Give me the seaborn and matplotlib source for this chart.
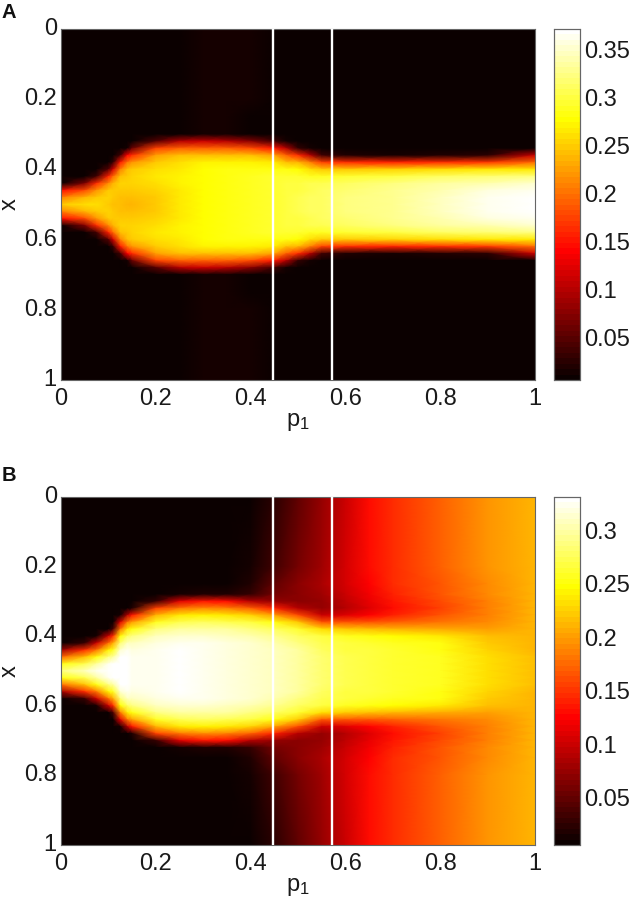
import numpy as np
import pandas as pd
import matplotlib
matplotlib.use("Agg")
import matplotlib.pyplot as plt
import seaborn as sns

sns.set_style("white")
plt.rcParams["font.family"] = ["Liberation Sans", "DejaVu Sans"]
plt.rcParams["mathtext.fontset"] = "custom"
plt.rcParams["mathtext.rm"] = "Liberation Sans"
plt.rcParams["mathtext.default"] = "regular"

# ---- data: half profiles x = 0 .. 0.5, one row per p1 (field is symmetric about x = 0.5)
p1_a = [0, .05, .075, .1, .11, .125, .14, .15, .2, .25, .3, .35, .4, .45, .475, .5, .525, .55, .6, .7, .8, .9, 1]
x_a = [0, .2, .25, .3, .32, .34, .36, .38, .4, .42, .44, .46, .48, .5]
field_a = [
    [.007, .007, .007, .007, .007, .007, .007, .007, .007, .007, .007, .145, .21, .25],
    [.007, .007, .007, .007, .007, .007, .007, .007, .007, .007, .07, .18, .235, .26],
    [.007, .007, .007, .007, .007, .007, .007, .007, .007, .04, .16, .22, .25, .26],
    [.007, .007, .007, .007, .007, .007, .007, .007, .05, .155, .215, .25, .255, .25],
    [.007, .007, .007, .007, .007, .007, .007, .03, .12, .195, .235, .25, .25, .245],
    [.007, .007, .007, .007, .007, .007, .04, .15, .21, .245, .255, .25, .245, .24],
    [.007, .007, .007, .007, .007, .015, .14, .205, .24, .25, .255, .25, .24, .235],
    [.007, .007, .007, .007, .007, .06, .165, .22, .25, .255, .255, .25, .24, .235],
    [.008, .008, .008, .008, .05, .175, .225, .25, .26, .265, .26, .255, .25, .25],
    [.009, .009, .008, .009, .10, .19, .24, .26, .265, .27, .27, .265, .265, .265],
    [.013, .013, .012, .015, .11, .19, .245, .27, .275, .278, .278, .275, .275, .275],
    [.013, .013, .012, .012, .10, .19, .245, .27, .28, .285, .285, .285, .285, .285],
    [.012, .012, .011, .01, .08, .18, .24, .27, .285, .29, .29, .29, .29, .29],
    [.007, .007, .007, .008, .04, .15, .225, .265, .285, .295, .295, .295, .295, .295],
    [.007, .007, .007, .007, .012, .10, .19, .245, .28, .295, .30, .30, .30, .30],
    [.007, .007, .007, .007, .009, .03, .16, .235, .275, .295, .30, .30, .305, .305],
    [.007, .007, .007, .007, .007, .012, .10, .21, .26, .29, .305, .305, .31, .31],
    [.007, .007, .007, .007, .007, .008, .035, .175, .25, .29, .305, .31, .31, .31],
    [.007, .007, .007, .007, .007, .007, .02, .16, .25, .295, .31, .318, .32, .32],
    [.007, .007, .007, .007, .007, .007, .015, .155, .255, .30, .32, .328, .33, .33],
    [.007, .007, .007, .007, .007, .007, .02, .16, .26, .31, .335, .342, .345, .347],
    [.007, .007, .007, .007, .007, .007, .025, .17, .265, .315, .34, .355, .36, .362],
    [.007, .007, .007, .007, .007, .01, .11, .195, .265, .32, .35, .365, .37, .371],
]

p1_b = [0, .05, .075, .1, .11, .125, .14, .15, .2, .25, .3, .35, .4, .45, .5, .55, .6, .65, .7, .8, .9, 1]
x_b = [0, .2, .25, .28, .3, .32, .34, .36, .38, .4, .42, .44, .46, .48, .5]
field_b = [
    [.007, .007, .007, .007, .007, .007, .007, .007, .007, .007, .007, .08, .175, .25, .29],
    [.007, .007, .007, .007, .007, .007, .007, .007, .007, .007, .03, .145, .215, .275, .31],
    [.007, .007, .007, .007, .007, .007, .007, .007, .007, .012, .10, .18, .25, .30, .325],
    [.007, .007, .007, .007, .007, .007, .007, .007, .01, .10, .175, .24, .29, .325, .331],
    [.007, .007, .007, .007, .007, .007, .007, .007, .04, .145, .205, .255, .30, .328, .331],
    [.007, .007, .007, .007, .007, .007, .015, .11, .18, .245, .285, .315, .328, .331, .331],
    [.007, .007, .007, .007, .007, .01, .09, .18, .235, .28, .31, .325, .328, .328, .328],
    [.007, .007, .007, .007, .007, .02, .135, .20, .25, .29, .31, .32, .325, .325, .325],
    [.007, .007, .007, .007, .03, .155, .21, .255, .29, .31, .32, .325, .325, .325, .325],
    [.007, .007, .007, .012, .11, .18, .235, .275, .30, .315, .325, .327, .327, .327, .327],
    [.007, .007, .007, .02, .135, .19, .24, .28, .30, .315, .325, .325, .325, .325, .325],
    [.007, .007, .008, .02, .128, .185, .235, .275, .30, .31, .318, .32, .32, .32, .32],
    [.01, .012, .018, .03, .09, .17, .225, .265, .29, .305, .312, .315, .315, .315, .315],
    [.025, .035, .05, .06, .075, .14, .20, .25, .28, .295, .305, .31, .31, .31, .31],
    [.05, .06, .07, .07, .07, .09, .16, .22, .26, .28, .29, .30, .30, .30, .30],
    [.075, .08, .085, .08, .075, .075, .10, .165, .23, .265, .275, .28, .285, .285, .285],
    [.10, .105, .105, .10, .095, .09, .11, .165, .22, .255, .265, .27, .275, .275, .275],
    [.128, .128, .125, .12, .115, .11, .125, .165, .215, .25, .26, .265, .265, .265, .265],
    [.147, .147, .145, .14, .135, .13, .14, .17, .21, .245, .255, .26, .26, .26, .26],
    [.17, .17, .168, .165, .16, .158, .165, .18, .205, .235, .25, .252, .255, .255, .255],
    [.195, .195, .192, .19, .186, .184, .187, .19, .20, .215, .222, .227, .23, .23, .23],
    [.21, .21, .21, .21, .21, .21, .21, .21, .21, .212, .213, .214, .215, .215, .215],
]

marker_p1 = [.447, .5725]
axis_ticks = [0, .2, .4, .6, .8, 1]
axis_labels = ["0", "0.2", "0.4", "0.6", "0.8", "1"]
cbar_ticks_a = [.05, .1, .15, .2, .25, .3, .35]
cbar_labels_a = ["0.05", "0.1", "0.15", "0.2", "0.25", "0.3", "0.35"]
cbar_ticks_b = [.05, .1, .15, .2, .25, .3]
cbar_labels_b = ["0.05", "0.1", "0.15", "0.2", "0.25", "0.3"]

W, H = 630, 907
FS = 17
INK = "#1a1a1a"
EDGE = "#666666"
cmap = plt.get_cmap("hot", 64)


def panel(letter, letter_y, top, bottom, p1, x_half, field, vmin, vmax, cticks, clabels):
    ax = fig.add_axes([61 / W, 1 - bottom / H, 474 / W, (bottom - top) / H])
    cax = fig.add_axes([554 / W, 1 - bottom / H, 26 / W, (bottom - top) / H])

    half = np.array(field).T
    full = np.vstack([half, half[-2::-1]])
    x_full = np.concatenate([x_half, 1 - np.array(x_half[-2::-1])])
    table = pd.DataFrame(full, index=np.round(x_full, 3), columns=p1)

    # seaborn supplies the axes and the colour bar; the p1/x knots are unevenly
    # spaced, so the field itself goes on the same axes as a smooth mesh
    sns.heatmap(table, ax=ax, cbar_ax=cax, cmap=cmap, vmin=vmin, vmax=vmax,
                cbar_kws={"ticks": cticks})
    ax.collections[0].set_visible(False)
    ax.pcolormesh(table.columns.values, table.index.values, table.values,
                  shading="gouraud", cmap=cmap, vmin=vmin, vmax=vmax, rasterized=True)

    for p in marker_p1:
        ax.axvline(p, color="white", lw=1.7, zorder=3)

    ax.set_xlim(0, 1)
    ax.set_ylim(1, 0)
    ax.set_xticks(axis_ticks, axis_labels)
    ax.set_yticks(axis_ticks, axis_labels, rotation=0)
    ax.tick_params(axis="x", direction="in", length=3.5, width=0.7, color="#333333",
                   top=True, bottom=True, labelsize=FS, labelcolor=INK, pad=5.5, labelrotation=0)
    ax.tick_params(axis="y", direction="in", length=3.5, width=0.7, color="#333333",
                   left=True, right=True, labelsize=FS, labelcolor=INK, pad=3)
    ax.set_xlabel(r"$\mathregular{p_1}$", fontsize=FS, color=INK, labelpad=1)
    ax.set_ylabel("x", fontsize=FS, color=INK, va="center")
    ax.yaxis.set_label_coords(-51 / 474, 0.5)
    for s in ax.spines.values():
        s.set_visible(True)
        s.set_color(EDGE)
        s.set_linewidth(0.8)

    cax.set_yticks(cticks, clabels)
    cax.tick_params(axis="y", direction="in", length=3.5, width=0.7, color="#333333",
                    left=True, right=True, labelsize=FS, labelcolor=INK, pad=3)
    for s in cax.spines.values():
        s.set_visible(True)
        s.set_color(EDGE)
        s.set_linewidth(0.8)

    fig.text(2 / W, 1 - letter_y / H, letter, fontsize=14.5, fontweight="bold",
             color="#111111", ha="left", va="baseline")


fig = plt.figure(figsize=(W / 100, H / 100), dpi=100, facecolor="white")
panel("A", 18, 29, 380, p1_a, x_a, field_a, .006, .371, cbar_ticks_a, cbar_labels_a)
panel("B", 481, 497, 845, p1_b, x_b, field_b, .006, .331, cbar_ticks_b, cbar_labels_b)
fig.savefig("out.png", dpi=100)
